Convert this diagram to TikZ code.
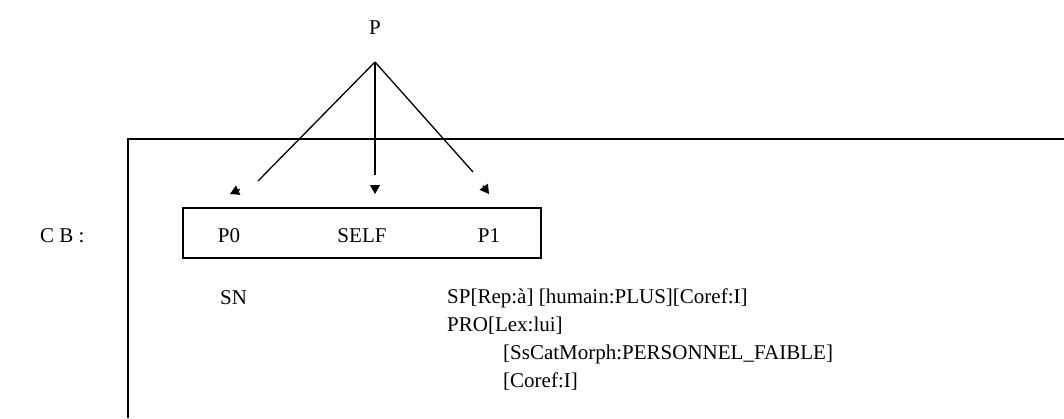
\documentclass[tikz,border=0pt]{standalone}
\usepackage{fontspec}
\setmainfont{Liberation Serif}
\usetikzlibrary{arrows.meta,calc}
\begin{document}
\begin{tikzpicture}[x=1pt,y=-1pt,
  lbl/.style={anchor=west,inner sep=0pt,font=\fontsize{21}{24}\selectfont},
  ctr/.style={inner sep=0pt,font=\fontsize{21}{24}\selectfont},
  link/.style={line width=1.3pt},
  tip/.style={-{Triangle[length=9pt,width=10pt]},line width=1.3pt}]
\useasboundingbox (0,0) rectangle (1064,418);
% frame
\draw[line width=2pt] (128,418) -- (128,139) -- (1064,139);
% top node
\node[ctr] (P) at (375,28) {P};
\coordinate (apex) at (375,62);
\coordinate (e0) at (258,181);
\coordinate (e1) at (375,175);
\coordinate (e2) at (473,172);
\coordinate (h0) at (230,194);
\coordinate (h1) at (375,194);
\coordinate (h2) at (489,194);
\draw[link] (apex) -- (e0);
\draw[link] (apex) -- (e1);
\draw[link] (apex) -- (e2);
\draw[tip,shorten <=20pt] (e0) -- (h0);
\draw[tip,shorten <=10pt] (e1) -- (h1);
\draw[tip,shorten <=17pt] (e2) -- (h2);
% CB
\node[lbl] (CB) at (40,236) {C B :};
% inner box
\node[draw,line width=2.2pt,minimum width=358pt,minimum height=50pt,inner sep=0pt] (box) at (362,233) {};
\node[ctr] (P0) at (229,236) {P0};
\node[ctr] (SELF) at (362,236) {SELF};
\node[ctr] (P1) at (489,236) {P1};
% annotations
\node[lbl] (SN) at (220,298) {SN};
\node[lbl] (SP) at (447,298) {SP[Rep:à] [humain:PLUS][Coref:I]};
\node[lbl] (PRO) at (447,326) {PRO[Lex:lui]};
\node[lbl] (SsCat) at (503,354) {[SsCatMorph:PERSONNEL\_FAIBLE]};
\node[lbl] (Coref) at (503,382) {[Coref:I]};
\end{tikzpicture}
\end{document}
